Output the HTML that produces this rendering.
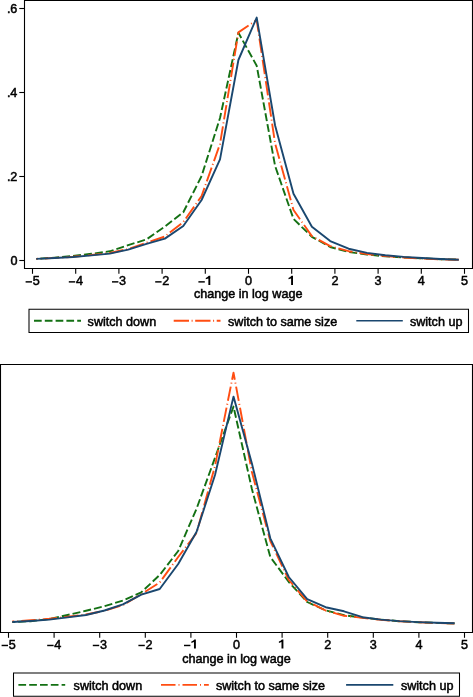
<!DOCTYPE html>
<html><head><meta charset="utf-8"><style>
html,body{margin:0;padding:0;background:#fff;}
body{width:473px;height:697px;overflow:hidden;}
svg{display:block;will-change:transform;}
text{font-family:"Liberation Sans",sans-serif;font-size:12.6px;fill:#000;stroke:#000;stroke-width:0.5px;}
.g{fill:#000;}
</style></head><body>
<svg width="473" height="697" viewBox="0 0 473 697">
<rect width="473" height="697" fill="#fff"/>

<polyline points="36.3,258.9 54.7,257.6 73.0,256.0 91.4,253.8 109.8,251.3 128.2,245.2 146.5,239.4 164.9,226.5 183.3,212.3 201.6,176.0 220.0,118.0 238.4,32.8 256.7,65.7 275.1,166.0 293.5,218.9 311.9,236.8 330.2,247.0 348.6,252.0 367.0,254.5 385.3,256.3 403.7,257.5 422.1,258.4 440.4,259.2 458.8,259.6" fill="none" stroke="#137013" stroke-width="1.9" stroke-dasharray="8 3" stroke-dashoffset="7.14" stroke-linejoin="round"/>
<polyline points="36.3,258.9 54.7,257.9 73.0,256.8 91.4,255.0 109.8,253.0 128.2,249.0 146.5,242.6 164.9,236.5 183.3,222.0 201.6,196.0 220.0,144.0 238.4,32.4 256.7,20.0 275.1,143.5 293.5,210.0 311.9,236.1 330.2,246.1 348.6,251.2 367.0,254.0 385.3,256.0 403.7,257.5 422.1,258.6 440.4,259.4 458.8,259.8" fill="none" stroke="#ff4d12" stroke-width="1.9" stroke-dasharray="14.5 3 1 3" stroke-dashoffset="12.86" stroke-linejoin="round"/>
<polyline points="36.3,258.9 54.7,258.0 73.0,257.0 91.4,255.4 109.8,253.6 128.2,249.6 146.5,243.8 164.9,238.6 183.3,226.0 201.6,200.0 220.0,159.4 238.4,60.0 256.7,17.6 275.1,125.5 293.5,193.8 311.9,226.8 330.2,241.1 348.6,248.7 367.0,252.9 385.3,255.3 403.7,256.9 422.1,258.0 440.4,259.0 458.8,259.8" fill="none" stroke="#1a476f" stroke-width="1.9" stroke-linejoin="round"/>

<path d="M24.5,269 V0.5 H472.5 V268.5 H24" fill="none" stroke="#000" stroke-width="1.1"/>
<line x1="19.3" y1="8.5" x2="24.5" y2="8.5" stroke="#000" stroke-width="1.1"/>
<text x="17.4" y="12.9" text-anchor="end">.6</text>
<line x1="19.3" y1="92.5" x2="24.5" y2="92.5" stroke="#000" stroke-width="1.1"/>
<text x="17.4" y="96.9" text-anchor="end">.4</text>
<line x1="19.3" y1="176.5" x2="24.5" y2="176.5" stroke="#000" stroke-width="1.1"/>
<text x="17.4" y="180.9" text-anchor="end">.2</text>
<line x1="19.3" y1="260.5" x2="24.5" y2="260.5" stroke="#000" stroke-width="1.1"/>
<text x="17.4" y="264.9" text-anchor="end">0</text>
<line x1="32.5" y1="268.5" x2="32.5" y2="273.8" stroke="#000" stroke-width="1.1"/>
<rect class="g" x="25.60" y="281.15" width="6.4" height="1.45"/><text x="32.68" y="285">5</text>
<line x1="75.7" y1="268.5" x2="75.7" y2="273.8" stroke="#000" stroke-width="1.1"/>
<rect class="g" x="68.80" y="281.15" width="6.4" height="1.45"/><text x="75.88" y="285">4</text>
<line x1="118.9" y1="268.5" x2="118.9" y2="273.8" stroke="#000" stroke-width="1.1"/>
<rect class="g" x="112.00" y="281.15" width="6.4" height="1.45"/><text x="119.08" y="285">3</text>
<line x1="162.1" y1="268.5" x2="162.1" y2="273.8" stroke="#000" stroke-width="1.1"/>
<rect class="g" x="155.20" y="281.15" width="6.4" height="1.45"/><text x="162.28" y="285">2</text>
<line x1="205.3" y1="268.5" x2="205.3" y2="273.8" stroke="#000" stroke-width="1.1"/>
<rect class="g" x="198.40" y="281.15" width="6.4" height="1.45"/><path class="g" d="M208.78,275.80 L210.28,275.80 L210.28,285.00 L208.38,285.00 L208.38,278.50 L205.78,279.30 L205.78,277.90 L207.48,277.10Z"/>
<line x1="248.5" y1="268.5" x2="248.5" y2="273.8" stroke="#000" stroke-width="1.1"/>
<text x="245.00" y="285">0</text>
<line x1="291.7" y1="268.5" x2="291.7" y2="273.8" stroke="#000" stroke-width="1.1"/>
<path class="g" d="M291.50,275.80 L293.00,275.80 L293.00,285.00 L291.10,285.00 L291.10,278.50 L288.50,279.30 L288.50,277.90 L290.20,277.10Z"/>
<line x1="334.9" y1="268.5" x2="334.9" y2="273.8" stroke="#000" stroke-width="1.1"/>
<text x="331.40" y="285">2</text>
<line x1="378.1" y1="268.5" x2="378.1" y2="273.8" stroke="#000" stroke-width="1.1"/>
<text x="374.60" y="285">3</text>
<line x1="421.3" y1="268.5" x2="421.3" y2="273.8" stroke="#000" stroke-width="1.1"/>
<text x="417.80" y="285">4</text>
<line x1="464.5" y1="268.5" x2="464.5" y2="273.8" stroke="#000" stroke-width="1.1"/>
<text x="461.00" y="285">5</text>
<text x="248.2" y="298.1" text-anchor="middle">change in log wage</text>
<path d="M29,309.3 V332.5 M468.5,309.3 V332.5 M28.5,332.5 H469 M28.5,309.3 H469" stroke="#000" stroke-width="1.05" fill="none"/>
<line x1="34" y1="320.8" x2="81" y2="320.8" stroke="#137013" stroke-width="1.9" stroke-dasharray="7.7 3.1"/>
<text x="87.6" y="325.8">switch down</text>
<line x1="173.7" y1="320.8" x2="220.5" y2="320.8" stroke="#ff4d12" stroke-width="1.9" stroke-dasharray="15.3 2.6 1 2.6"/>
<text x="228" y="325.8">switch to same size</text>
<line x1="356.3" y1="320.8" x2="402.8" y2="320.8" stroke="#1a476f" stroke-width="1.6"/>
<text x="409.9" y="325.8">switch up</text>
<polyline points="12.3,622.0 30.7,621.2 49.2,619.0 67.6,615.0 86.0,610.8 104.5,606.2 122.9,600.5 141.3,592.3 159.7,575.0 178.2,551.0 196.6,508.6 215.0,457.8 233.5,406.6 251.9,489.0 270.3,557.0 288.8,582.0 307.2,602.0 325.6,610.3 344.0,615.2 362.5,617.6 380.9,619.6 399.3,621.2 417.8,622.2 436.2,622.9 454.6,623.4" fill="none" stroke="#137013" stroke-width="1.9" stroke-dasharray="8 3" stroke-dashoffset="5.05" stroke-linejoin="round"/>
<polyline points="12.3,621.5 30.7,620.3 49.2,618.8 67.6,616.8 86.0,614.5 104.5,610.8 122.9,605.0 141.3,594.2 159.7,582.5 178.2,557.0 196.6,533.0 215.0,466.0 233.5,372.6 251.9,472.0 270.3,541.0 288.8,580.0 307.2,601.4 325.6,610.5 344.0,615.8 362.5,617.8 380.9,619.8 399.3,621.3 417.8,622.2 436.2,623.0 454.6,623.5" fill="none" stroke="#ff4d12" stroke-width="1.9" stroke-dasharray="14.5 3 1 3" stroke-dashoffset="12.46" stroke-linejoin="round"/>
<polyline points="12.3,622.0 30.7,621.0 49.2,619.6 67.6,617.4 86.0,615.0 104.5,610.5 122.9,604.3 141.3,594.6 159.7,589.0 178.2,564.0 196.6,531.8 215.0,475.0 233.5,396.6 251.9,463.5 270.3,538.3 288.8,577.0 307.2,599.2 325.6,607.2 344.0,611.3 362.5,617.2 380.9,619.6 399.3,621.1 417.8,622.1 436.2,622.8 454.6,623.3" fill="none" stroke="#1a476f" stroke-width="1.9" stroke-linejoin="round"/>

<path d="M0.5,633 V364.5 H472.5 V632.5 H0" fill="none" stroke="#000" stroke-width="1.1"/>
<line x1="8.5" y1="632.5" x2="8.5" y2="637.8" stroke="#000" stroke-width="1.1"/>
<rect class="g" x="1.60" y="644.75" width="6.4" height="1.45"/><text x="8.68" y="648.6">5</text>
<line x1="54.1" y1="632.5" x2="54.1" y2="637.8" stroke="#000" stroke-width="1.1"/>
<rect class="g" x="47.20" y="644.75" width="6.4" height="1.45"/><text x="54.28" y="648.6">4</text>
<line x1="99.7" y1="632.5" x2="99.7" y2="637.8" stroke="#000" stroke-width="1.1"/>
<rect class="g" x="92.80" y="644.75" width="6.4" height="1.45"/><text x="99.88" y="648.6">3</text>
<line x1="145.3" y1="632.5" x2="145.3" y2="637.8" stroke="#000" stroke-width="1.1"/>
<rect class="g" x="138.40" y="644.75" width="6.4" height="1.45"/><text x="145.48" y="648.6">2</text>
<line x1="190.9" y1="632.5" x2="190.9" y2="637.8" stroke="#000" stroke-width="1.1"/>
<rect class="g" x="184.00" y="644.75" width="6.4" height="1.45"/><path class="g" d="M194.38,639.40 L195.88,639.40 L195.88,648.60 L193.98,648.60 L193.98,642.10 L191.38,642.90 L191.38,641.50 L193.08,640.70Z"/>
<line x1="236.5" y1="632.5" x2="236.5" y2="637.8" stroke="#000" stroke-width="1.1"/>
<text x="233.00" y="648.6">0</text>
<line x1="282.1" y1="632.5" x2="282.1" y2="637.8" stroke="#000" stroke-width="1.1"/>
<path class="g" d="M281.90,639.40 L283.40,639.40 L283.40,648.60 L281.50,648.60 L281.50,642.10 L278.90,642.90 L278.90,641.50 L280.60,640.70Z"/>
<line x1="327.7" y1="632.5" x2="327.7" y2="637.8" stroke="#000" stroke-width="1.1"/>
<text x="324.20" y="648.6">2</text>
<line x1="373.3" y1="632.5" x2="373.3" y2="637.8" stroke="#000" stroke-width="1.1"/>
<text x="369.80" y="648.6">3</text>
<line x1="418.9" y1="632.5" x2="418.9" y2="637.8" stroke="#000" stroke-width="1.1"/>
<text x="415.40" y="648.6">4</text>
<line x1="464.5" y1="632.5" x2="464.5" y2="637.8" stroke="#000" stroke-width="1.1"/>
<text x="461.00" y="648.6">5</text>
<text x="236.4" y="662.7" text-anchor="middle">change in log wage</text>
<path d="M13.5,673 V696.3 M459.5,673 V696.3 M13,696.3 H460 M13,673 H460" stroke="#000" stroke-width="1.05" fill="none"/>
<line x1="18.4" y1="684.9" x2="65.2" y2="684.9" stroke="#137013" stroke-width="1.9" stroke-dasharray="7.7 3.1"/>
<text x="73.6" y="689.7">switch down</text>
<line x1="161" y1="684.9" x2="208.8" y2="684.9" stroke="#ff4d12" stroke-width="1.9" stroke-dasharray="14.5 3 1 3"/>
<text x="215.9" y="689.7">switch to same size</text>
<line x1="346.1" y1="684.9" x2="393.3" y2="684.9" stroke="#1a476f" stroke-width="1.6"/>
<text x="400.9" y="689.7">switch up</text>
</svg></body></html>
